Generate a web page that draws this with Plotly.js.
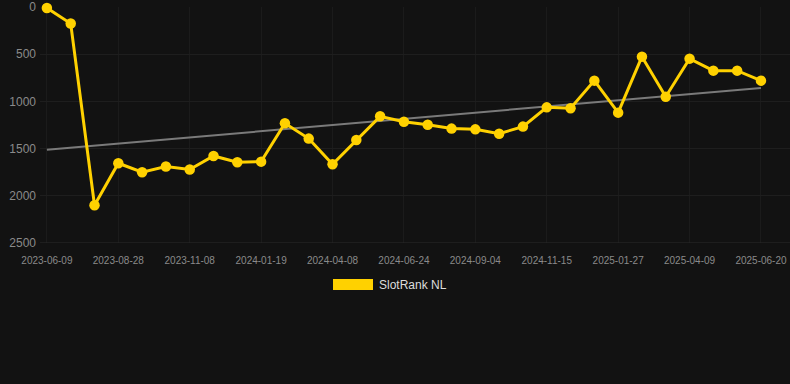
<!DOCTYPE html>
<html>
<head>
<meta charset="utf-8">
<script src="https://cdn.plot.ly/plotly-3.0.1.min.js"></script>
<style>html,body{margin:0;padding:0;background:#121212;}#chart{width:790px;height:384px;}</style>
</head>
<body>
<div id="chart"></div>
<script>
// Data (rank values; axis reversed)
var pointIndex = [0,1,2,3,4,5,6,7,8,9,10,11,12,13,14,15,16,17,18,19,20,21,22,23,24,25,26,27,28,29,30];
var rankValues = [10,175,2100,1655,1750,1690,1722,1578,1645,1638,1232,1394,1666,1408,1158,1216,1248,1288,1296,1342,1267,1063,1073,780,1119,526,950,547,674,674,780];
var trendIndex = [0,30];
var trendValues = [1512,858];
var tickIndex = [0,3,6,9,12,15,18,21,24,27,30];
var tickLabels = ["2023-06-09","2023-08-28","2023-11-08","2024-01-19","2024-04-08","2024-06-24","2024-09-04","2024-11-15","2025-01-27","2025-04-09","2025-06-20"];
var seriesName = "SlotRank NL";
var lineColor = "#FFD100";

var traces = [
  {x: trendIndex, y: trendValues, mode: "lines", line: {color: "#7a7a7a", width: 2}, showlegend: false, hoverinfo: "skip", cliponaxis: false},
  {x: pointIndex, y: rankValues, mode: "lines+markers", name: seriesName, line: {color: lineColor, width: 3}, marker: {color: lineColor, size: 10.5}, showlegend: false, cliponaxis: false}
];

var plotBottom = 243, plotH = 236, plotL = 40, plotW = 750;
function px(x) { return (x - plotL) / plotW; }
function py(y) { return (plotBottom - y) / plotH; }

var layout = {
  width: 790, height: 384,
  paper_bgcolor: "#121212", plot_bgcolor: "#121212",
  margin: {l: 40, r: 0, t: 7, b: 141},
  font: {family: "Liberation Sans, Arial, sans-serif", color: "#888"},
  xaxis: {range: [-0.29, 31.22], tickvals: tickIndex, ticktext: tickLabels, tickfont: {size: 10, color: "#8a8a8a"}, showgrid: true, gridcolor: "#1b1b1b", zeroline: false, showline: false, ticks: "", ticklabelstandoff: 10},
  yaxis: {range: [2500, 0], tickvals: [0,500,1000,1500,2000,2500], tickfont: {size: 12, color: "#8a8a8a"}, showgrid: true, gridcolor: "#1e1e1e", zeroline: false, showline: false, ticks: "", ticklabelstandoff: 3},
  shapes: [
    {type: "line", xref: "paper", yref: "y", x0: 0, x1: 1, y0: 2500, y1: 2500, line: {color: "#2a2a2a", width: 1}},
    {type: "rect", xref: "paper", yref: "paper", x0: px(333), x1: px(373), y0: py(290), y1: py(279), fillcolor: lineColor, line: {width: 0}}
  ],
  annotations: [
    {xref: "paper", yref: "paper", x: px(377), y: py(285), xanchor: "left", yanchor: "middle", text: seriesName, showarrow: false, font: {size: 12, color: "#dddddd"}}
  ],
  showlegend: false
};

Plotly.newPlot("chart", traces, layout, {displayModeBar: false, staticPlot: true});
</script>
</body>
</html>
